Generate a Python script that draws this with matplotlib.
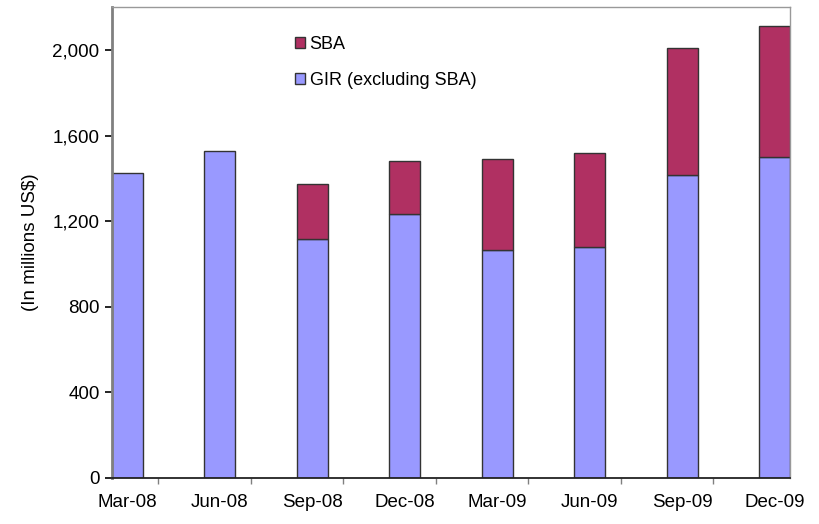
import numpy as np
import matplotlib
matplotlib.use("Agg")
import matplotlib.pyplot as plt
from matplotlib.ticker import FuncFormatter, FixedLocator

plt.rcParams['font.family'] = ['Liberation Sans', 'DejaVu Sans']

# --- Data (millions US$) ---
quarters = ['Mar-08', 'Jun-08', 'Sep-08', 'Dec-08', 'Mar-09', 'Jun-09', 'Sep-09', 'Dec-09']
gir = [1424, 1527, 1117, 1234, 1065, 1081, 1416, 1502]
sba = [0, 0, 257, 245, 426, 437, 595, 612]

gir_color = '#9999FF'
sba_color = '#B03062'
edge = '#333333'

fig = plt.figure(figsize=(8.19, 5.24), dpi=100)
ax = fig.add_axes([0.1368, 0.0884, 0.8278, 0.8976])

x = np.arange(len(quarters))
w = 0.335
b1 = ax.bar(x, gir, width=w, color=gir_color, edgecolor=edge, linewidth=1,
            label='GIR (excluding SBA)', zorder=2)
b2 = ax.bar(x[2:], sba[2:], width=w, bottom=gir[2:], color=sba_color,
            edgecolor=edge, linewidth=1, label='SBA', zorder=2)

ax.set_xlim(-w / 2, len(quarters) - 1 + w / 2)
ax.set_ylim(0, 2200)
ax.set_yticks([0, 400, 800, 1200, 1600, 2000])
ax.yaxis.set_major_formatter(FuncFormatter(lambda v, p: f"{int(v):,}"))

# labels under the bars, tick marks sit between categories
ax.set_xticks(x)
ax.set_xticklabels(quarters)
ax.tick_params(axis='x', which='major', length=0, pad=12, labelsize=13.5)
ax.xaxis.set_minor_locator(FixedLocator(x[:-1] + w))
ax.tick_params(axis='x', which='minor', length=4, width=1, color='#808080', direction='out')
ax.tick_params(axis='y', length=5, width=1.2, color='black', labelsize=13.5, pad=4)

ax.set_ylabel('(In millions US$)', fontsize=13.5, labelpad=10)

ax.spines['left'].set_color('#808080')
ax.spines['left'].set_linewidth(2)
ax.spines['bottom'].set_color('#222222')
ax.spines['bottom'].set_linewidth(1.3)
for s in ('top', 'right'):
    ax.spines[s].set_color('#999999')
    ax.spines[s].set_linewidth(1)

ax.legend(handles=[b2, b1], loc='upper left', bbox_to_anchor=(0.27, 0.94),
          frameon=False, fontsize=13, handlelength=0.55, handleheight=0.55,
          handletextpad=0.25, labelspacing=1.05, borderpad=0, borderaxespad=0)

fig.savefig('out.png', dpi=100)
